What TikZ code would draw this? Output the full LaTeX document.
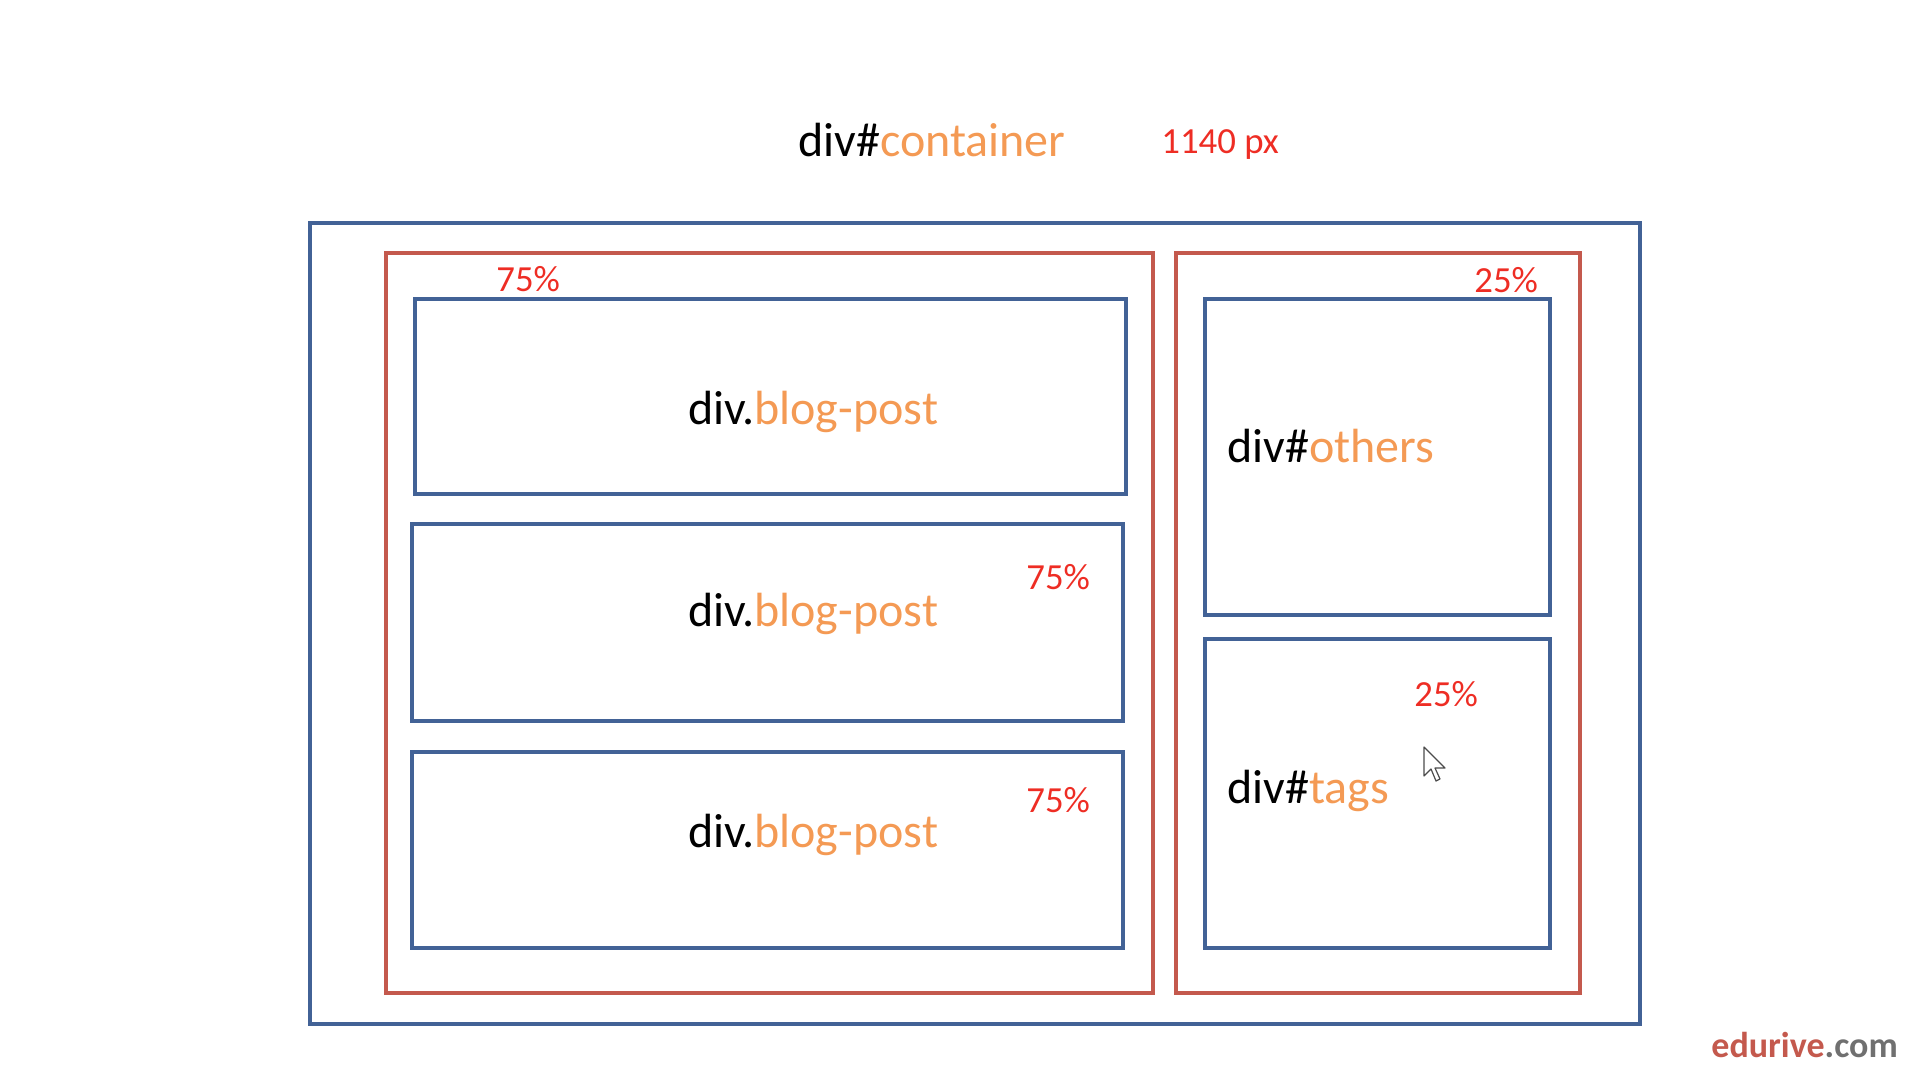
\documentclass[tikz,border=0pt]{standalone}
\usepackage{fontspec}
\setmainfont{Carlito}
\definecolor{boxblue}{RGB}{66,98,150}
\definecolor{boxred}{RGB}{196,89,77}
\definecolor{nameorange}{RGB}{244,154,84}
\definecolor{pctred}{RGB}{238,45,36}
\definecolor{comgray}{RGB}{112,112,112}
\tikzset{
  bluebox/.style={draw=boxblue, line width=2.2pt},
  redbox/.style={draw=boxred, line width=2.2pt},
  divname/.style={anchor=base west, inner sep=0pt, font=\fontsize{24}{28}\selectfont},
  pct/.style={anchor=base west, inner sep=0pt, text=pctred, font=\fontsize{18.4}{22}\selectfont}
}
\newcommand{\orng}[1]{\textcolor{nameorange}{#1}}
\begin{document}
\begin{tikzpicture}[x=0.5pt, y=-0.5pt]
\useasboundingbox (0,0) rectangle (1920,1080);
% container and the two columns
\draw[bluebox] (310,223) rectangle (1640,1024);
\draw[redbox] (386,253) rectangle (1153,993);
\draw[redbox] (1176,253) rectangle (1580,993);
% blog posts
\draw[bluebox] (415,299) rectangle (1126,494);
\foreach \ytop/\ybot in {524/721, 752/948}
  \draw[bluebox] (412,\ytop) rectangle (1123,\ybot);
% others and tags
\draw[bluebox] (1205,299) rectangle (1550,615);
\draw[bluebox] (1205,639) rectangle (1550,948);
% labels
\node[divname] (container) at (798,157) {div\#\orng{container}};
\node[pct] (width) at (1161,154) {1140 px};
\node[pct] (leftpct) at (496,292) {75\%};
\node[pct] (rightpct) at (1474,293) {25\%};
\node[divname] (post1) at (688,424) {div.\orng{blog-post}};
\node[divname] (post2) at (688,626) {div.\orng{blog-post}};
\node[divname] (post3) at (688,847) {div.\orng{blog-post}};
\node[pct] (post2pct) at (1026,589) {75\%};
\node[pct] (post3pct) at (1026,812) {75\%};
\node[divname] (others) at (1227,462) {div\#\orng{others}};
\node[divname] (tags) at (1227,803) {div\#\orng{tags}};
\node[pct] (tagspct) at (1414,706) {25\%};
% mouse pointer
\draw[black!70, line width=0.6pt, fill=white, line join=round]
  (1424,747) -- (1424,776) -- (1431,769) -- (1436,781) -- (1440,779)
  -- (1435,768) -- (1445,768) -- cycle;
% logo
\node[anchor=base west, inner sep=0pt, font=\bfseries\fontsize{18}{22}\selectfont]
  (logo) at (1711,1057) {\textcolor{boxred}{edurive}\textcolor{comgray}{.com}};
\end{tikzpicture}
\end{document}
